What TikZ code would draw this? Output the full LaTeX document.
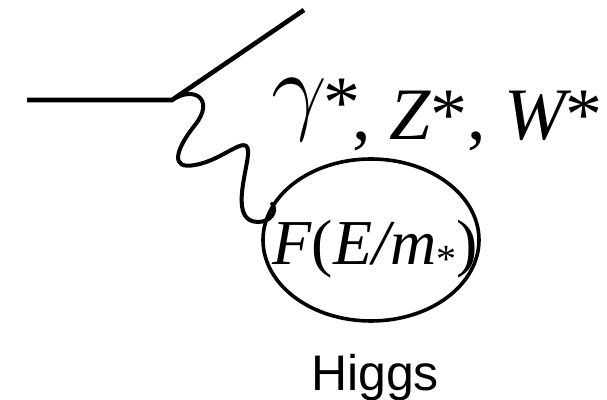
\documentclass[tikz,border=0pt]{standalone}
\usepackage{fontspec}
\setmainfont{Liberation Serif}
\newfontfamily\higgsfont{Liberation Sans}
\usetikzlibrary{positioning,shapes.geometric}

\begin{document}
\begin{tikzpicture}[x=0.5pt,y=0.5pt,
  fermion/.style={line width=2.3pt},
  boson/.style={line width=2pt,line cap=round},
  blobshape/.style={draw,ellipse,line width=1.8pt,minimum width=108pt,minimum height=81pt,inner sep=0pt}]
\useasboundingbox (0,0) rectangle (607,400);
\coordinate (in) at (27,300);
\coordinate (v) at (172,300);
\coordinate (out) at (304,390);
\draw[fermion] (in)--(v)--(out);
\node[blobshape] (higgs) at (371,160) {};
\draw[boson] (v)..controls(195,315)and(215,300)..(195,275)
  ..controls(175,250)and(170,230)..(195,235)
  ..controls(225,240)and(250,270)..(248,245)
  ..controls(246,225)and(230,178)..(258,178)
  ..controls(270,178)and(278,188)..(higgs.160);
\node[anchor=base,inner sep=0pt,font=\fontsize{32}{32}\selectfont] (ff) at (375,135)
  {\itshape F\/\upshape(\itshape E/m\upshape\raisebox{-4pt}{\fontsize{20}{20}\selectfont *})};
% gamma drawn larger and raised, as in the sketch
\node[anchor=base west,inner sep=0pt,font=\fontsize{37}{37}\selectfont] (bosons) at (271,260)
  {\raisebox{9pt}{\resizebox*{!}{31pt}{$\gamma$}}\kern-2pt\raisebox{6pt}{*}\kern-4pt, \itshape Z\upshape*, \itshape W\upshape*};
\node[anchor=base,inner sep=0pt,font=\higgsfont\fontsize{25}{25}\selectfont] (hname) at (375,9) {Higgs};
\end{tikzpicture}
\end{document}
